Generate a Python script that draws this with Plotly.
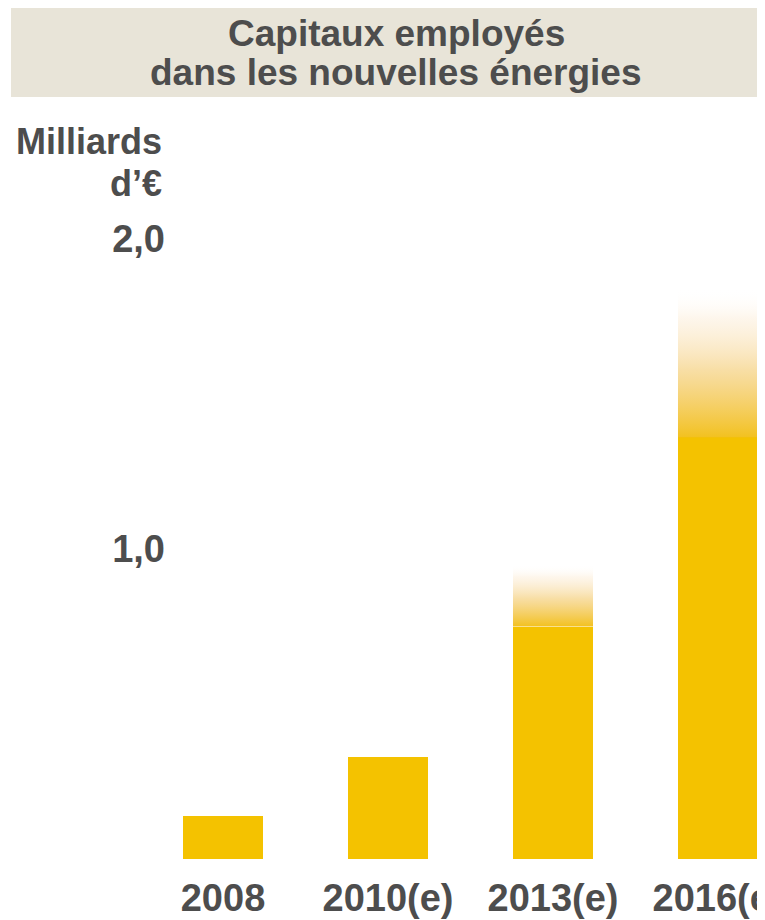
import plotly.graph_objects as go

# ---- data ----
categories = ["2008", "2010(e)", "2013(e)", "2016(e)"]
base_values = [0.14, 0.33, 0.75, 1.36]      # solid part of each bar
upper_values = [None, None, 0.95, 1.84]     # top of the faded (estimate) range
y_tick_values = [1.0, 2.0]
y_tick_labels = ["1,0", "2,0"]
unit_lines = ["Milliards", "d’€"]
title_lines = ["Capitaux employés", "dans les nouvelles énergies"]

GOLD = "rgb(244,194,0)"
TEXT = "#4d4d4d"
FONT = "Liberation Sans, Arial, sans-serif"
BAR_W = 0.485

OFF = 8  # page body margin of the browser
W, H = 765, 920
ML, MR = 170 - OFF, 0
MT = 110 - OFF
MB = H - (859 - OFF)
PW, PH = W - ML - MR, H - MT - MB

xs = list(range(len(categories)))

fig = go.Figure()
fig.add_trace(go.Bar(x=xs, y=base_values, width=BAR_W,
                     marker=dict(color=GOLD, line=dict(width=0)),
                     showlegend=False, hoverinfo="skip"))

for x, lo, hi in zip(xs, base_values, upper_values):
    if hi is None:
        continue
    fig.add_trace(go.Scatter(
        x=[x - BAR_W / 2, x + BAR_W / 2, x + BAR_W / 2, x - BAR_W / 2, x - BAR_W / 2],
        y=[lo, lo, hi, hi, lo],
        mode="none", fill="toself",
        fillgradient=dict(type="vertical", colorscale=[
            [0.0, "rgba(242,190,20,0.95)"],
            [0.45, "rgba(242,195,90,0.55)"],
            [0.8, "rgba(250,225,190,0.3)"],
            [1.0, "rgba(255,255,255,0)"]]),
        showlegend=False, hoverinfo="skip"))

px_per_x = 165.0
x_left = -((223 - OFF) - ML) / px_per_x
x_right = x_left + PW / px_per_x
y_top = PH / 310.0

def paper_x(px):
    return (px - OFF - ML) / PW

def paper_y(py):
    return (H - MB - (py - OFF)) / PH

# title box
fig.add_shape(type="rect", xref="paper", yref="paper",
              x0=paper_x(11), x1=paper_x(780), y0=paper_y(97), y1=paper_y(7),
              fillcolor="#e8e4d8", line=dict(width=0), layer="below")
for line, py in zip(title_lines, [33, 72]):
    fig.add_annotation(text=line, xref="paper", yref="paper",
                       x=paper_x(396), y=paper_y(py), xanchor="center", yanchor="middle",
                       showarrow=False, font=dict(family=FONT, size=37, color=TEXT, weight="bold"))

for line, py in zip(unit_lines, [141, 184]):
    fig.add_annotation(text=line, xref="paper", yref="paper",
                       x=paper_x(164), y=paper_y(py), xanchor="right", yanchor="middle",
                       showarrow=False, font=dict(family=FONT, size=36, color=TEXT, weight="bold"))

fig.update_layout(
    width=W, height=H,
    margin=dict(l=ML, r=MR, t=MT, b=MB, autoexpand=False),
    paper_bgcolor="white", plot_bgcolor="white",
    bargap=0, showlegend=False,
    font=dict(family=FONT, color=TEXT),
)
fig.update_xaxes(range=[x_left, x_right], tickvals=xs, ticktext=categories,
                 showgrid=False, zeroline=False, showline=False, ticks="",
                 tickfont=dict(family=FONT, size=38, color=TEXT, weight="bold"),
                 ticklabelstandoff=13, ticklabeloverflow="allow",
                 automargin=False, fixedrange=True)
fig.update_yaxes(range=[0, y_top], tickvals=y_tick_values, ticktext=y_tick_labels,
                 showgrid=False, zeroline=False, showline=False, ticks="",
                 tickfont=dict(family=FONT, size=38, color=TEXT, weight="bold"),
                 ticklabelstandoff=4, ticklabeloverflow="allow",
                 automargin=False, fixedrange=True)

fig.write_html("out.html")
